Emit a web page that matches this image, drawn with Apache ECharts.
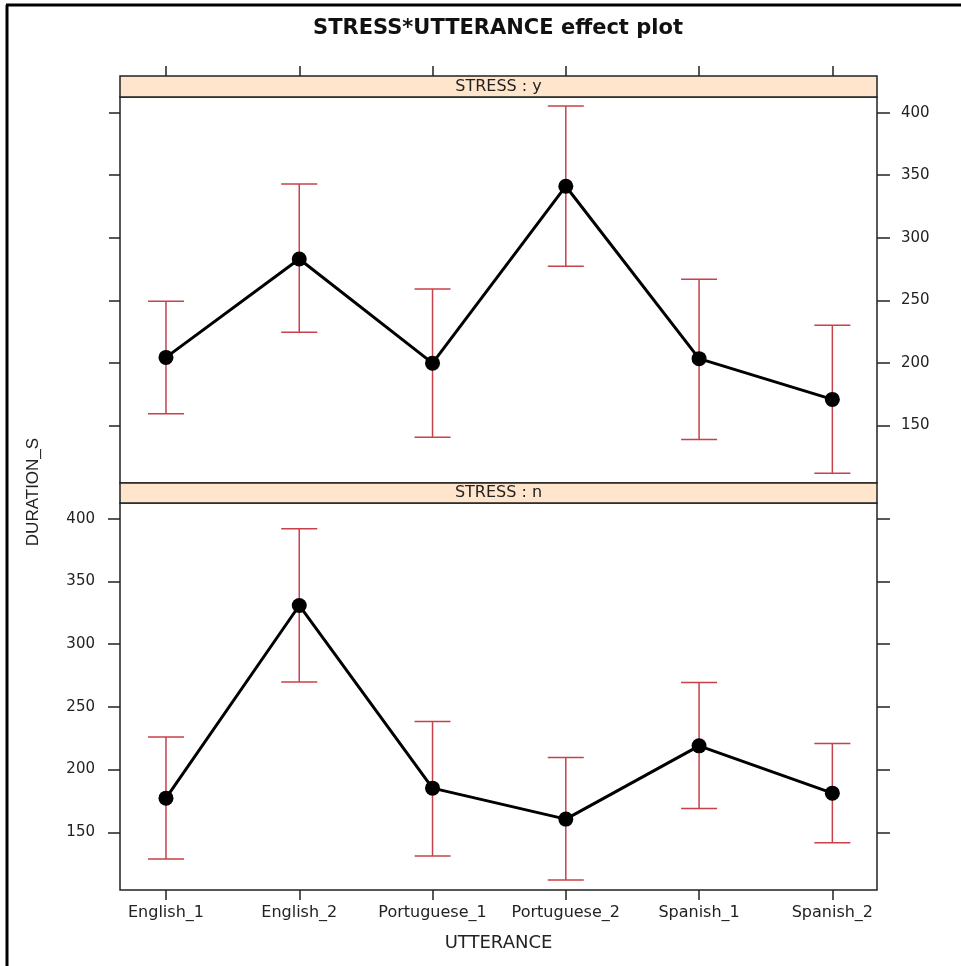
<!DOCTYPE html>
<html><head><meta charset="utf-8">
<script src="https://cdn.jsdelivr.net/npm/echarts@6/dist/echarts.min.js"></script>
<style>html,body{margin:0;padding:0;background:#fff}#c{width:961px;height:966px}</style>
</head><body><div id="c"></div>
<script>
// ---- data ----
const categories = ['English_1', 'English_2', 'Portuguese_1', 'Portuguese_2', 'Spanish_1', 'Spanish_2'];
const yTickValues = [150, 200, 250, 300, 350, 400];
const stripLabels = ['STRESS : y', 'STRESS : n'];

const fitStressY   = [204.4, 283.0, 199.8, 341.2, 203.4, 170.8];
const lowerStressY = [159.3, 224.4, 140.5, 277.2, 138.8, 111.8];
const upperStressY = [249.2, 342.9, 259.0, 405.3, 266.9, 230.0];

const fitStressN   = [177.2, 330.8, 185.2, 160.5, 218.9, 181.2];
const lowerStressN = [128.7, 269.8, 131.1, 112.0, 169.0, 141.7];
const upperStressN = [226.0, 392.0, 238.3, 209.6, 269.5, 220.8];

// ---- layout ----
const X_MIN = 0.655, X_MAX = 6.335, Y_MIN = 104, Y_MAX = 412.5;
const PL = 120, PW = 757;
const TXT = '#222';
const FONT = 'DejaVu Sans';
const catPos = categories.map((c, i) => i + 1);

const lineData = fit => fit.map((v, i) => [catPos[i], v]);
const barData = (lo, hi) => lo.map((v, i) => [catPos[i], v, hi[i]]);

function renderErr(params, api) {
  const x = api.value(0), lo = api.value(1), hi = api.value(2);
  const a = api.coord([x, lo]), b = api.coord([x, hi]);
  const hw = 18;
  const style = { stroke: '#c8404a', lineWidth: 1.5 };
  return { type: 'group', children: [
    { type: 'line', shape: { x1: a[0], y1: a[1], x2: b[0], y2: b[1] }, style },
    { type: 'line', shape: { x1: a[0] - hw, y1: a[1], x2: a[0] + hw, y2: a[1] }, style },
    { type: 'line', shape: { x1: b[0] - hw, y1: b[1], x2: b[0] + hw, y2: b[1] }, style }
  ]};
}

const yBase = (grid, pos, labels, tickLen) => ({
  gridIndex: grid, type: 'value', position: pos, min: Y_MIN, max: Y_MAX,
  axisLine: { show: false },
  axisTick: { show: true, customValues: yTickValues, length: tickLen, lineStyle: { color: TXT, width: 1.5 } },
  axisLabel: { show: labels, customValues: yTickValues, color: TXT, fontFamily: FONT, fontSize: 15, margin: pos === 'left' ? 25 : 24 },
  splitLine: { show: false }
});

const chart = echarts.init(document.getElementById('c'), null, { renderer: 'canvas' });
chart.setOption({
  animation: false,
  backgroundColor: '#fff',
  title: {
    text: 'STRESS*UTTERANCE effect plot', left: 498, top: 18, padding: 0, textAlign: 'center',
    textStyle: { fontFamily: FONT, fontWeight: 'bold', fontSize: 21, color: '#111' }
  },
  grid: [
    { left: PL, top: 97, width: PW, height: 386, show: true, borderColor: TXT, borderWidth: 1.5, backgroundColor: '#fff' },
    { left: PL, top: 503, width: PW, height: 387, show: true, borderColor: TXT, borderWidth: 1.5, backgroundColor: '#fff' }
  ],
  xAxis: [
    { gridIndex: 0, type: 'value', min: X_MIN, max: X_MAX, position: 'top', offset: 21,
      axisLine: { show: false },
      axisTick: { show: true, customValues: catPos, length: 10, lineStyle: { color: TXT, width: 1.5 } },
      axisLabel: { show: false }, splitLine: { show: false } },
    { gridIndex: 1, type: 'value', min: X_MIN, max: X_MAX, position: 'bottom',
      axisLine: { show: false },
      axisTick: { show: true, customValues: catPos, length: 10, lineStyle: { color: TXT, width: 1.5 } },
      axisLabel: { customValues: catPos, formatter: v => categories[Math.round(v) - 1], color: TXT, fontFamily: FONT, fontSize: 16, margin: 15 },
      splitLine: { show: false },
      name: 'UTTERANCE', nameLocation: 'middle', nameGap: 44,
      nameTextStyle: { fontFamily: FONT, fontSize: 18, color: TXT } }
  ],
  yAxis: [
    yBase(0, 'left', false, 11),
    yBase(0, 'right', true, 13),
    yBase(1, 'left', true, 12),
    yBase(1, 'right', false, 13)
  ],
  graphic: [
    { type: 'line', shape: { x1: 7, y1: 5, x2: 7, y2: 966 }, style: { stroke: '#000', lineWidth: 3 } },
    { type: 'line', shape: { x1: 6, y1: 5, x2: 961, y2: 5 }, style: { stroke: '#000', lineWidth: 3 } },
    { type: 'rect', shape: { x: PL, y: 76, width: PW, height: 21 }, style: { fill: '#ffe5cc', stroke: TXT, lineWidth: 1.5 } },
    { type: 'text', x: PL + PW / 2, y: 87, style: { text: stripLabels[0], fill: TXT, font: '16px "DejaVu Sans"', textAlign: 'center', textVerticalAlign: 'middle' } },
    { type: 'rect', shape: { x: PL, y: 483, width: PW, height: 20 }, style: { fill: '#ffe5cc', stroke: TXT, lineWidth: 1.5 } },
    { type: 'text', x: PL + PW / 2, y: 493, style: { text: stripLabels[1], fill: TXT, font: '16px "DejaVu Sans"', textAlign: 'center', textVerticalAlign: 'middle' } },
    { type: 'text', x: 33, y: 492, rotation: Math.PI / 2, style: { text: 'DURATION_S', fill: TXT, font: '17px "Liberation Sans"', textAlign: 'center', textVerticalAlign: 'middle' } }
  ],
  series: [
    { type: 'custom', xAxisIndex: 0, yAxisIndex: 0, renderItem: renderErr, data: barData(lowerStressY, upperStressY), z: 2 },
    { type: 'line', xAxisIndex: 0, yAxisIndex: 0, data: lineData(fitStressY), symbol: 'circle', symbolSize: 15,
      lineStyle: { color: '#000', width: 3 }, itemStyle: { color: '#000' }, z: 3 },
    { type: 'custom', xAxisIndex: 1, yAxisIndex: 2, renderItem: renderErr, data: barData(lowerStressN, upperStressN), z: 2 },
    { type: 'line', xAxisIndex: 1, yAxisIndex: 2, data: lineData(fitStressN), symbol: 'circle', symbolSize: 15,
      lineStyle: { color: '#000', width: 3 }, itemStyle: { color: '#000' }, z: 3 }
  ]
});
</script>
</body></html>
